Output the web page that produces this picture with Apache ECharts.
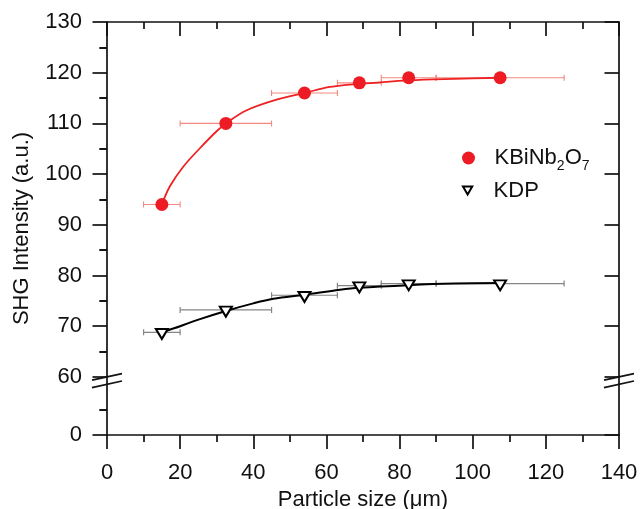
<!DOCTYPE html>
<html><head><meta charset="utf-8">
<script src="https://cdn.jsdelivr.net/npm/echarts@6/dist/echarts.min.js"></script>
<style>html,body{margin:0;padding:0;background:#fff}#c{width:640px;height:509px}</style>
</head><body><div id="c"></div>
<script>
// ---- data ----
const sizeX    = [15, 32.5, 54, 69, 82.5, 107.5];
const sizeLow  = [10, 20, 45, 63, 75, 90];
const sizeHigh = [20, 45, 63, 75, 90, 125];
const kbnY = [94, 110, 116, 118, 119, 119];
const kdpY = [68.8, 73.2, 76.1, 78.0, 78.4, 78.4];
const kbnFitX = [15, 17.2, 20.9, 25.4, 29.9, 32.5, 38.2, 46.4, 54, 61, 69, 82.5, 95, 107.5];
const kbnFitY = [94, 97.6, 101.5, 105.1, 108.4, 110, 112.6, 114.7, 116, 117.2, 117.8, 118.5, 118.8, 119];
const kdpFitX = [15, 17.5, 20, 25, 32.5, 40, 45.5, 54, 63.7, 69, 82.5, 95, 107.5];
const kdpFitY = [68.8, 69.4, 70, 71.3, 73.0, 74.5, 75.4, 76.2, 77.2, 77.6, 78.1, 78.4, 78.5];
const xTickMin = 0, xTickMax = 140, xTickStep = 20;
const yTicksUpper = [60, 70, 80, 90, 100, 110, 120, 130];
const yTicksLower = [0];
const yMinorUpper = [65, 75, 85, 95, 105, 115, 125];
const yMinorLower = [5];
const lowerTop = 10;      // top of lower (broken) segment
const breakGap = 1.46;    // gap between segments, in axis units

// ---- broken-axis mapping ----
const lowOffset = 60 - breakGap - lowerTop;
const disp = v => (v < 60 ? v + lowOffset : v);
const majorVals = yTicksLower.map(disp).concat(yTicksUpper);
const minorVals = yMinorLower.map(disp).concat(yMinorUpper);
const yMin = disp(0), yMax = 130;

const FONT = 'Liberation Sans, Arial, sans-serif';
const TXT = '#111';
const FS = 22;
const LW = 1.7;
const RED = '#ed1c24';

function errData(ys) { return sizeX.map((x, i) => [x, ys[i], sizeLow[i], sizeHigh[i]]); }
function errSeries(ys, color, lw) {
  return {
    type: 'custom', silent: true, z: 1,
    data: errData(ys),
    renderItem: (params, api) => {
      const y = api.value(1);
      const a = api.coord([api.value(2), y]);
      const b = api.coord([api.value(3), y]);
      const st = { stroke: color, lineWidth: lw };
      const h = 3;
      return { type: 'group', children: [
        { type: 'line', shape: { x1: a[0], y1: a[1], x2: b[0], y2: b[1] }, style: st },
        { type: 'line', shape: { x1: a[0], y1: a[1] - h, x2: a[0], y2: a[1] + h }, style: st },
        { type: 'line', shape: { x1: b[0], y1: b[1] - h, x2: b[0], y2: b[1] + h }, style: st }
      ]};
    }
  };
}
const zip = (xs, ys) => xs.map((x, i) => [x, ys[i]]);

const baseY = {
  type: 'value', min: yMin, max: yMax, splitLine: { show: false },
  axisLine: { show: false }, axisLabel: { show: false }
};
const TRI = 'path://M0,0L10,0L5,8.66Z';

const chart = echarts.init(document.getElementById('c'), null, { renderer: 'canvas' });
chart.setOption({
  animation: false,
  backgroundColor: '#fff',
  textStyle: { fontFamily: FONT, color: TXT },
  grid: { left: 107, right: 21, top: 22, bottom: 74, containLabel: false, outerBoundsMode: 'none' },
  xAxis: [
    {
      type: 'value', position: 'bottom', min: xTickMin, max: xTickMax, interval: xTickStep,
      splitLine: { show: false },
      axisLine: { show: true, onZero: false, lineStyle: { color: TXT, width: LW } },
      axisTick: { show: true, inside: false, length: 14, lineStyle: { color: TXT, width: LW } },
      minorTick: { show: true, splitNumber: 2, length: 7, lineStyle: { color: TXT, width: LW } },
      axisLabel: { fontSize: FS, color: TXT, fontFamily: FONT, margin: 27 },
      name: 'Particle size (\u03bcm)', nameLocation: 'middle', nameGap: 51.5,
      nameTextStyle: { fontSize: FS, color: TXT, fontFamily: FONT }
    },
    {
      type: 'value', position: 'top', min: xTickMin, max: xTickMax, interval: xTickStep,
      splitLine: { show: false },
      axisLine: { show: true, onZero: false, lineStyle: { color: TXT, width: LW } },
      axisTick: { show: true, inside: true, length: 14, lineStyle: { color: TXT, width: LW } },
      minorTick: { show: true, splitNumber: 2, length: 7, lineStyle: { color: TXT, width: LW } },
      axisLabel: { show: false }
    }
  ],
  yAxis: [
    Object.assign({}, baseY, {
      position: 'left',
      axisLine: { show: true, onZero: false, lineStyle: { color: TXT, width: LW } },
      axisTick: { show: true, inside: false, length: 14.5, customValues: majorVals, lineStyle: { color: TXT, width: LW } },
      axisLabel: { show: true, customValues: majorVals, fontSize: FS, color: TXT, fontFamily: FONT, margin: 25,
        formatter: v => String(Math.round(v < 60 ? v - lowOffset : v)) },
      name: 'SHG Intensity (a.u.)', nameLocation: 'middle', nameGap: 74,
      nameTextStyle: { fontSize: FS, color: TXT, fontFamily: FONT }
    }),
    Object.assign({}, baseY, {
      position: 'left',
      axisTick: { show: true, inside: false, length: 7.5, customValues: minorVals, lineStyle: { color: TXT, width: LW } }
    }),
    Object.assign({}, baseY, {
      position: 'right',
      axisLine: { show: true, onZero: false, lineStyle: { color: TXT, width: LW } },
      axisTick: { show: true, inside: true, length: 14.5, customValues: majorVals, lineStyle: { color: TXT, width: LW } }
    }),
    Object.assign({}, baseY, {
      position: 'right',
      axisTick: { show: true, inside: true, length: 7.5, customValues: minorVals, lineStyle: { color: TXT, width: LW } }
    })
  ],
  legend: [
    {
      data: [{ name: 'KBiNb2O7', icon: 'circle' }],
      left: 462, top: 143, padding: 0, itemWidth: 42, itemHeight: 13,
      formatter: () => 'KBiNb{s|2}O{s|7}',
      textStyle: { fontSize: FS, lineHeight: 22, color: TXT, fontFamily: FONT,
        rich: { s: { fontSize: 14, lineHeight: 14, padding: [16, 0, 0, 0], color: TXT, fontFamily: FONT } } }
    },
    {
      data: [{ name: 'KDP', icon: TRI, itemStyle: { color: '#fff', borderColor: '#000', borderWidth: 2 } }],
      left: 462, top: 179.5, padding: 0, itemWidth: 42, itemHeight: 8,
      textStyle: { fontSize: FS, lineHeight: 22, color: TXT, fontFamily: FONT }
    }
  ],
  series: [
    errSeries(kbnY, '#f3897f', 1.1),
    errSeries(kdpY, '#858585', 1.2),
    { type: 'line', name: 'kbnFit', data: zip(kbnFitX, kbnFitY), smooth: 0.35,
      showSymbol: false, symbol: 'none', silent: true, z: 2, lineStyle: { color: '#ee2222', width: 1.8 } },
    { type: 'line', name: 'kdpFit', data: zip(kdpFitX, kdpFitY), smooth: 0.35,
      showSymbol: false, symbol: 'none', silent: true, z: 2, lineStyle: { color: '#000', width: 2 } },
    { type: 'scatter', name: 'KBiNb2O7', data: zip(sizeX, kbnY), symbol: 'circle', symbolSize: 13, z: 3,
      itemStyle: { color: RED, opacity: 1 } },
    { type: 'scatter', name: 'KDP', data: zip(sizeX, kdpY), symbol: TRI, symbolSize: [12, 10], symbolOffset: [0, 1.7], z: 3,
      itemStyle: { color: '#fff', borderColor: '#000', borderWidth: 2, opacity: 1 } }
  ]
});

// ---- axis break marks, placed through the axes' own scales ----
const marks = [];
[xTickMin, xTickMax].forEach(xv => {
  [60, disp(lowerTop)].forEach(yv => {
    const p = chart.convertToPixel({ gridIndex: 0 }, [xv, yv]);
    marks.push({ type: 'line', z: 100,
      shape: { x1: p[0] - 15, y1: p[1] + 3.3, x2: p[0] + 15, y2: p[1] - 3.3 },
      style: { stroke: TXT, lineWidth: LW } });
  });
});
chart.setOption({ graphic: marks });
</script></body></html>
